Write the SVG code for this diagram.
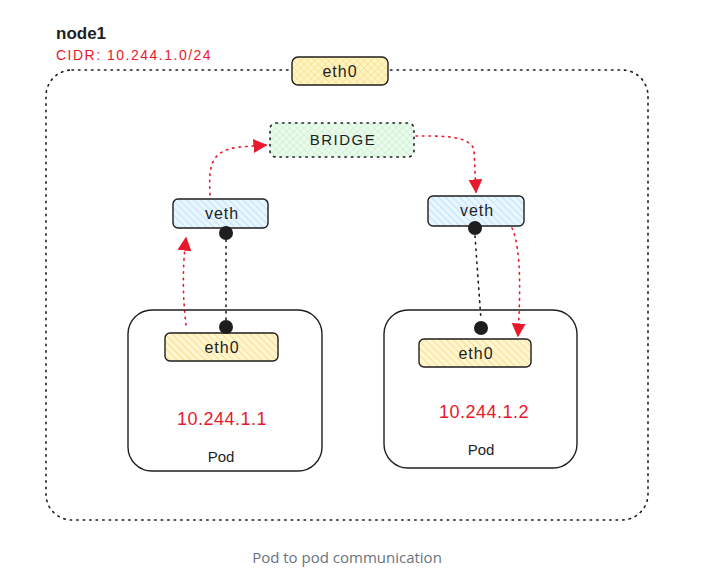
<svg xmlns="http://www.w3.org/2000/svg" width="702" height="587" viewBox="0 0 702 587">
<style>
.hand{font-family:"Liberation Sans",Arial,sans-serif;fill:#1e1e1e}
.red{fill:#e8192c}
.box{stroke:#1e1e1e;stroke-width:1.4}
.dotb{fill:none;stroke:#1e1e1e;stroke-width:1.6;stroke-dasharray:1.5 5;stroke-linecap:round}
.dotr{fill:none;stroke:#e8192c;stroke-width:1.6;stroke-dasharray:1.5 5;stroke-linecap:round}
.cap{font-family:"Open Sans","Noto Sans",sans-serif;fill:#6a737d;font-size:15px}
</style>
<defs>
<pattern id="hy" width="5" height="5" patternUnits="userSpaceOnUse" patternTransform="rotate(-45)">
<rect width="5" height="5" fill="#fff6d0"/><line x1="0" y1="0" x2="0" y2="5" stroke="#f5d36a" stroke-width="1.3"/>
</pattern>
<pattern id="hyx" width="5" height="5" patternUnits="userSpaceOnUse" patternTransform="rotate(45)">
<rect width="5" height="5" fill="#fff4c2"/><line x1="0" y1="0" x2="0" y2="5" stroke="#f7d774" stroke-width="1"/><line x1="0" y1="0" x2="5" y2="0" stroke="#f7d774" stroke-width="1"/>
</pattern>
<pattern id="hg" width="5" height="5" patternUnits="userSpaceOnUse" patternTransform="rotate(45)">
<rect width="5" height="5" fill="#eefaf0"/><line x1="0" y1="0" x2="0" y2="5" stroke="#b2f2bb" stroke-width="1"/><line x1="0" y1="0" x2="5" y2="0" stroke="#b2f2bb" stroke-width="1"/>
</pattern>
<pattern id="hb" width="5" height="5" patternUnits="userSpaceOnUse" patternTransform="rotate(-45)">
<rect width="5" height="5" fill="#eaf6fd"/><line x1="0" y1="0" x2="0" y2="5" stroke="#a5d8ff" stroke-width="1.3"/>
</pattern>
<marker id="ah" viewBox="0 0 10 10" refX="9" refY="5" markerWidth="14" markerHeight="14" markerUnits="userSpaceOnUse" orient="auto">
<path d="M0,0 L10,5 L0,10 Z" fill="#e8192c"/>
</marker>
</defs>

<g id="node1">
<rect x="46" y="70" width="602" height="450" rx="26" class="dotb"/>
<text x="56" y="39" class="hand" font-size="17" font-weight="bold">node1</text>
<text x="56" y="60" class="hand red" font-size="14" letter-spacing="1.5">CIDR: 10.244.1.0/24</text>
</g>

<g id="connectors">
<path d="M186,325 C183,300 182,270 186,238" class="dotr" marker-end="url(#ah)"/>
<path d="M210,195 C209,170 208,150 240,147 L266,145" class="dotr" marker-end="url(#ah)"/>
<path d="M416,136 C440,136 470,135 474,150 L476,192" class="dotr" marker-end="url(#ah)"/>
<path d="M512,228 C522,250 520,300 518,336" class="dotr" marker-end="url(#ah)"/>
<line x1="226" y1="240" x2="226" y2="320" class="dotb"/>
<line x1="475" y1="236" x2="481" y2="320" class="dotb"/>
</g>

<g id="eth0-node">
<rect x="292" y="57" width="96" height="28" rx="6" fill="url(#hyx)" class="box"/>
<text x="340" y="77" class="hand" font-size="16" letter-spacing="1" text-anchor="middle">eth0</text>
</g>

<g id="bridge">
<rect x="270" y="123" width="144" height="34" rx="6" class="dotb" style="fill:url(#hg)"/>
<text x="343" y="145" class="hand" font-size="15" text-anchor="middle" letter-spacing="1.5">BRIDGE</text>
</g>

<g id="veth-left">
<rect x="173" y="199" width="95" height="29" rx="5" fill="url(#hb)" class="box"/>
<text x="222" y="219" class="hand" font-size="16" letter-spacing="1" text-anchor="middle">veth</text>
<circle cx="226" cy="233" r="7" fill="#1e1e1e"/>
</g>

<g id="veth-right">
<rect x="428" y="196" width="96" height="30" rx="5" fill="url(#hb)" class="box"/>
<text x="477" y="216" class="hand" font-size="16" letter-spacing="1" text-anchor="middle">veth</text>
<circle cx="475" cy="228" r="7" fill="#1e1e1e"/>
</g>

<g id="pod-left">
<rect x="128" y="310" width="194" height="161" rx="24" fill="none" class="box"/>
<rect x="165" y="333" width="113" height="28" rx="5" fill="url(#hy)" class="box"/>
<text x="222" y="353" class="hand" font-size="16" letter-spacing="1" text-anchor="middle">eth0</text>
<circle cx="226" cy="327" r="7" fill="#1e1e1e"/>
<text x="222" y="425" class="hand red" font-size="18" letter-spacing="0.5" text-anchor="middle">10.244.1.1</text>
<text x="221" y="462" class="hand" font-size="15" text-anchor="middle">Pod</text>
</g>

<g id="pod-right">
<rect x="384" y="310" width="193" height="158" rx="24" fill="none" class="box"/>
<rect x="419" y="339" width="112" height="28" rx="5" fill="url(#hy)" class="box"/>
<text x="476" y="359" class="hand" font-size="16" letter-spacing="1" text-anchor="middle">eth0</text>
<circle cx="481" cy="328" r="7" fill="#1e1e1e"/>
<text x="484" y="418" class="hand red" font-size="18" letter-spacing="0.5" text-anchor="middle">10.244.1.2</text>
<text x="481" y="455" class="hand" font-size="15" text-anchor="middle">Pod</text>
</g>

<text x="347" y="563" class="cap" text-anchor="middle">Pod to pod communication</text>
</svg>
